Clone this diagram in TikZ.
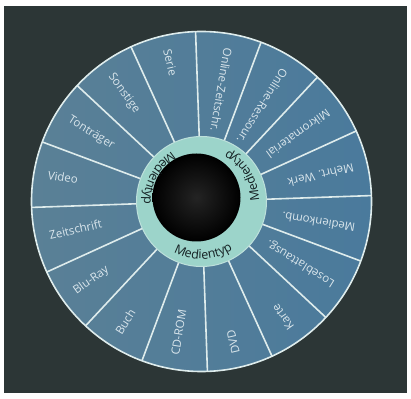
\documentclass[tikz,border=0pt]{standalone}
\usepackage{fontspec}
\setmainfont{Open Sans}
\usetikzlibrary{decorations.text}
\definecolor{screenbg}{RGB}{44,54,54}
\definecolor{wheelblue}{RGB}{74,122,156}
\definecolor{wheelgray}{RGB}{90,128,150}
\definecolor{ringteal}{RGB}{156,212,202}
\definecolor{spokewhite}{RGB}{222,236,236}
\definecolor{labelwhite}{RGB}{218,230,236}
\definecolor{ringtext}{RGB}{20,32,34}

\begin{document}
\begin{tikzpicture}[x=1pt, y=1pt,
    seglabel/.style={anchor=mid west, inner sep=0pt, text=labelwhite, font=\fontsize{11.5}{13}\selectfont},
    spoke/.style={draw=spokewhite, line width=1.6pt},
    ringlabel/.style={decorate, decoration={text along path, text align=center,
        text={|\color{ringtext}\fontsize{12.5}{14}\selectfont|Medientyp}}}]
    % Screen background
    \fill[white] (-201.5,-196.5) rectangle (209.5,201.5);
    \fill[screenbg] (-197.5,-191.5) rectangle (205.5,195.5);
    \useasboundingbox (-201.5,-196.5) rectangle (209.5,201.5);

    % Wheel with 16 segments
    \shade[left color=wheelgray, right color=wheelblue] (0,0) circle (170);
    \draw[spoke] (2:65) -- (2:170) (24.5:65) -- (24.5:170) (47:65) -- (47:170) (69.5:65) -- (69.5:170)
        (92:65) -- (92:170) (114.5:65) -- (114.5:170) (137:65) -- (137:170) (159.5:65) -- (159.5:170)
        (182:65) -- (182:170) (204.5:65) -- (204.5:170) (227:65) -- (227:170) (249.5:65) -- (249.5:170)
        (272:65) -- (272:170) (294.5:65) -- (294.5:170) (317:65) -- (317:170) (339.5:65) -- (339.5:170);
    \draw[spoke] (0,0) circle (170);

    % Inner ring and hole
    \fill[ringteal] (0,0) circle (65);
    \draw[spokewhite!50!ringteal, line width=1pt] (0,0) circle (65);
    \shade[inner color=black!86, outer color=black] (-5,4) circle (44);

    % Ring captions
    \path[ringlabel] (-150:57.5) arc[start angle=-150, end angle=-26, radius=57.5];
    \path[ringlabel] (-30:57.5) arc[start angle=-30, end angle=94, radius=57.5];
    \path[ringlabel] (90:57.5) arc[start angle=90, end angle=214, radius=57.5];

    % Segment labels, read from the rim inwards
    \node[seglabel, rotate=193.25] (werk) at (13.25:156) {Mehrt. Werk};
    \node[seglabel, rotate=215.75] (mikro) at (35.75:156) {Mikromaterial};
    \node[seglabel, rotate=238.25] (ressource) at (58.25:156) {Online-Ressour.};
    \node[seglabel, rotate=260.75] (ozeitschr) at (80.75:156) {Online-Zeitschr.};
    \node[seglabel, rotate=283.25] (serie) at (103.25:156) {Serie};
    \node[seglabel, rotate=305.75] (sonstige) at (125.75:156) {Sonstige};
    \node[seglabel, rotate=328.25] (tontraeger) at (148.25:156) {Tonträger};
    \node[seglabel, rotate=350.75] (video) at (170.75:156) {Video};
    \node[seglabel, rotate=13.25] (zeitschrift) at (193.25:156) {Zeitschrift};
    \node[seglabel, rotate=35.75] (bluray) at (215.75:156) {Blu-Ray};
    \node[seglabel, rotate=58.25] (buch) at (238.25:156) {Buch};
    \node[seglabel, rotate=80.75] (cdrom) at (260.75:156) {CD-ROM};
    \node[seglabel, rotate=103.25] (dvd) at (283.25:156) {DVD};
    \node[seglabel, rotate=125.75] (karte) at (305.75:156) {Karte};
    \node[seglabel, rotate=148.25] (lose) at (328.25:156) {Loseblattausg.};
    \node[seglabel, rotate=170.75] (komb) at (350.75:156) {Medienkomb.};
\end{tikzpicture}
\end{document}
